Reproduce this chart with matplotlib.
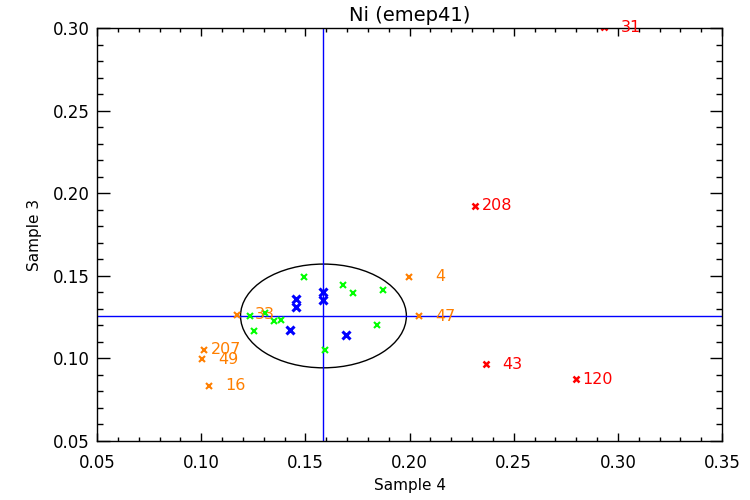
import numpy as np
import matplotlib
matplotlib.use('Agg')
import matplotlib.pyplot as plt
from matplotlib.patches import Ellipse

# values
green_x = [0.1494, 0.1683, 0.1730, 0.1874, 0.1846, 0.1592, 0.1233, 0.1305, 0.1352, 0.1384, 0.1254]
green_y = [0.1495, 0.1444, 0.1394, 0.1414, 0.1202, 0.1051, 0.1255, 0.1273, 0.1225, 0.1232, 0.1166]

blue_x = [0.1586, 0.1586, 0.1454, 0.1454, 0.1427, 0.1694]
blue_y = [0.1404, 0.1353, 0.1361, 0.1311, 0.1172, 0.1142]

orange_x = [0.1997, 0.2045, 0.1174, 0.1015, 0.1004, 0.1036]
orange_y = [0.1495, 0.1255, 0.1265, 0.1051, 0.0995, 0.0833]
orange_id = [4, 47, 33, 207, 49, 16]

red_x = [0.2314, 0.2366, 0.2797, 0.2932]
red_y = [0.1924, 0.0966, 0.0875, 0.3005]
red_id = [208, 43, 120, 31]

mean_x = 0.1587
mean_y = 0.1257
sd_x = 0.0398
sd_y = 0.0314

c_green = '#00ff00'
c_blue = '#0000ff'
c_orange = '#ff7f00'
c_red = '#ff0000'

fig = plt.figure(figsize=(7.5, 5), dpi=100)
ax = fig.add_axes([97/750, 1 - 441/500, 625/750, 413/500])

ax.axvline(mean_x, color=c_blue, lw=1)
ax.axhline(mean_y, color=c_blue, lw=1)
ax.add_patch(Ellipse((mean_x, mean_y), 2*sd_x, 2*sd_y, fill=False, ec='black', lw=1))

ax.plot(green_x, green_y, 'x', color=c_green, ms=5, mew=1.5)
ax.plot(blue_x, blue_y, 'x', color=c_blue, ms=6, mew=2.2)
ax.plot(orange_x, orange_y, 'x', color=c_orange, ms=5, mew=1.5)
ax.plot(red_x, red_y, 'x', color=c_red, ms=5, mew=1.8)

for x, y, n in zip(orange_x, orange_y, orange_id):
    ax.annotate(str(n), (x, y), xytext=(37, 0), textcoords='offset pixels',
                ha='right', va='center', color=c_orange, fontsize=11.5,
                annotation_clip=False)
for x, y, n in zip(red_x, red_y, red_id):
    ax.annotate(str(n), (x, y), xytext=(37, 0), textcoords='offset pixels',
                ha='right', va='center', color=c_red, fontsize=11.5,
                annotation_clip=False)

ax.set_xlim(0.05, 0.35)
ax.set_ylim(0.05, 0.30)
ax.set_xticks(np.arange(0.05, 0.351, 0.05))
ax.set_yticks(np.arange(0.05, 0.301, 0.05))
ax.set_xticks(np.arange(0.05, 0.351, 0.01), minor=True)
ax.set_yticks(np.arange(0.05, 0.301, 0.01), minor=True)
ax.xaxis.set_major_formatter(matplotlib.ticker.FormatStrFormatter('%.2f'))
ax.yaxis.set_major_formatter(matplotlib.ticker.FormatStrFormatter('%.2f'))
ax.tick_params(axis='both', which='both', direction='in', top=True, right=True,
               labelsize=12, width=1)
ax.tick_params(axis='x', which='major', length=6, pad=9)
ax.tick_params(axis='x', which='minor', length=3)
ax.tick_params(axis='y', which='major', length=9, pad=5)
ax.tick_params(axis='y', which='minor', length=4.5)
for s in ax.spines.values():
    s.set_linewidth(1)

ax.set_title('Ni (emep41)', fontsize=14, pad=5)
ax.set_xlabel('Sample 4', fontsize=11, labelpad=5)
ax.set_ylabel('Sample 3', fontsize=11, labelpad=8)

# red text mostly below the bottom edge, only its top shows
fig.text(120/750, -2/500, '555', color=c_red, fontsize=11, ha='left', va='top')

fig.savefig('out.png', dpi=100)
